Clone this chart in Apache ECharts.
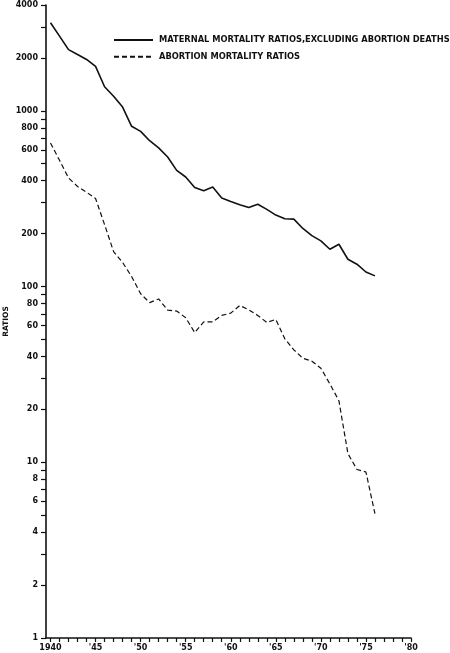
<!DOCTYPE html>
<html><head><meta charset="utf-8">
<script src="https://cdn.jsdelivr.net/npm/echarts@6/dist/echarts.min.js"></script>
<style>html,body{margin:0;padding:0;background:#fff}#c{width:450px;height:653px}</style>
</head><body><div id="c"></div>
<script>
const years = [1940,1941,1942,1943,1944,1945,1946,1947,1948,1949,1950,1951,1952,1953,1954,1955,1956,1957,1958,1959,1960,1961,1962,1963,1964,1965,1966,1967,1968,1969,1970,1971,1972,1973,1974,1975,1976];
const maternalExclAbortion = [3170,2660,2230,2090,1960,1790,1370,1210,1050,816,764,676,615,546,458,420,366,351,368,319,305,292,282,294,275,255,243,242,214,195,182,163,174,143,134,121,115];
const abortionRatios = [656,523,415,371,344,317,225,158,137,114,91,81,85,73.4,72.5,66.5,54.7,63,63,68.5,70.6,78,73.7,68.5,62.5,65,50.4,43.6,39.1,37.6,34.3,27.9,22.4,11.2,9.1,8.8,5.1];
const seriesNames = ['MATERNAL MORTALITY RATIOS,EXCLUDING ABORTION DEATHS','ABORTION MORTALITY RATIOS'];
const xTickValues = [1940,1941,1942,1943,1944,1945,1946,1947,1948,1949,1950,1951,1952,1953,1954,1955,1956,1957,1958,1959,1960,1961,1962,1963,1964,1965,1966,1967,1968,1969,1970,1971,1972,1973,1974,1975,1976,1977,1978,1979,1980];
const xLabelValues = [1940,1945,1950,1955,1960,1965,1970,1975,1980];
const xLabelTexts = ['1940',"'45","'50","'55","'60","'65","'70","'75","'80"];
const yTickValues = [1,2,3,4,5,6,7,8,9,10,20,30,40,50,60,70,80,90,100,200,300,400,500,600,700,800,900,1000,2000,3000,4000];
const yLabelValues = [1,2,4,6,8,10,20,40,60,80,100,200,400,600,800,1000,2000,4000];
const yAxisTitle = 'RATIOS';

const FONT = 'DejaVu Sans';
const chart = echarts.init(document.getElementById('c'), null, {renderer: 'canvas'});
const xLabelMap = {};
xLabelValues.forEach((v, i) => { xLabelMap[v] = xLabelTexts[i]; });

chart.setOption({
  animation: false,
  backgroundColor: '#fff',
  grid: {left: 46, top: 5, right: 39, bottom: 15, containLabel: false, outerBoundsMode: 'none'},
  legend: {
    orient: 'vertical', left: 113, top: 36, padding: 0, itemWidth: 39, itemHeight: 10, itemGap: 8.7,
    itemStyle: {opacity: 0},
    textStyle: {fontFamily: FONT, fontWeight: 'bold', fontSize: 8.3, color: '#111', padding: [0, 0, 0, 1]},
    data: seriesNames
  },
  xAxis: {
    type: 'value', min: 1939.5, max: 1980,
    axisLine: {show: true, lineStyle: {color: '#111', width: 1.6}},
    axisTick: {show: true, inside: false, length: 4, customValues: xTickValues, lineStyle: {color: '#111', width: 1.2}},
    axisLabel: {customValues: xLabelValues, margin: 6, fontFamily: FONT, fontWeight: 'bold', fontSize: 8, color: '#111',
      formatter: v => xLabelMap[v] || ''},
    splitLine: {show: false}
  },
  yAxis: {
    type: 'log', logBase: 10, min: 1, max: 4000,
    name: yAxisTitle, nameLocation: 'middle', nameRotate: 90, nameGap: 36, nameMoveOverlap: false,
    nameTextStyle: {fontFamily: FONT, fontWeight: 'bold', fontSize: 7.5, color: '#111'},
    axisLine: {show: true, lineStyle: {color: '#111', width: 1.6}},
    axisTick: {show: true, inside: false, length: 5, customValues: yTickValues, lineStyle: {color: '#111', width: 1.2}},
    axisLabel: {customValues: yLabelValues, margin: 8, fontFamily: FONT, fontWeight: 'bold', fontSize: 8, color: '#111',
      formatter: v => String(Math.round(v))},
    splitLine: {show: false}
  },
  series: [
    {name: seriesNames[0], type: 'line', symbol: 'none', smooth: false,
     lineStyle: {color: '#111', width: 1.6, type: 'solid'},
     itemStyle: {color: '#111'},
     data: years.map((y, i) => [y, maternalExclAbortion[i]])},
    {name: seriesNames[1], type: 'line', symbol: 'none', smooth: false,
     lineStyle: {color: '#111', width: 1.2, type: [5, 3]},
     itemStyle: {color: '#111'},
     data: years.map((y, i) => [y, abortionRatios[i]])}
  ]
});
</script>
</body></html>
